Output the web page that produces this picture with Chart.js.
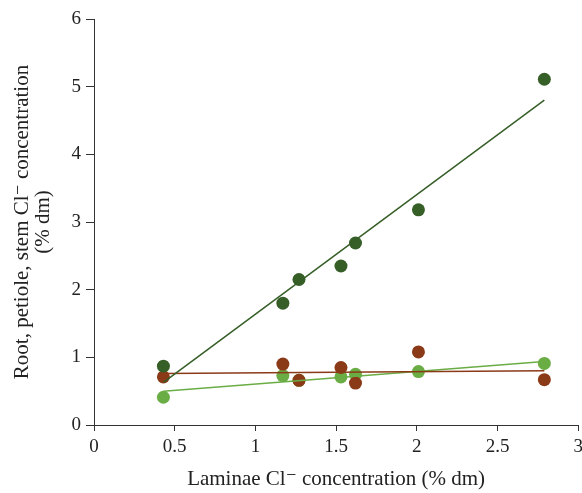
<!DOCTYPE html>
<html><head><meta charset="utf-8">
<script src="https://cdn.jsdelivr.net/npm/chart.js@4"></script>
<style>html,body{margin:0;padding:0;background:#fff;overflow:hidden}#wrap{width:582px;height:493px;position:relative;overflow:hidden}</style>
</head><body><div id="wrap"><canvas id="c" width="588" height="493"></canvas></div>
<script>
const laminae = [0.43, 1.17, 1.27, 1.53, 1.62, 2.01, 2.79];
const stem    = [0.87, 1.80, 2.15, 2.35, 2.69, 3.18, 5.11];
const root    = [0.71, 0.90, 0.66, 0.85, 0.62, 1.08, 0.67];
const petiole = [0.41, 0.73, 0.66, 0.71, 0.75, 0.79, 0.91];
const trendX       = [0.43, 2.79];
const stemTrend    = [0.63, 4.80];
const rootTrend    = [0.76, 0.80];
const petioleTrend = [0.50, 0.94];
const xTicks = [0, 0.5, 1, 1.5, 2, 2.5, 3];
const yTicks = [0, 1, 2, 3, 4, 5, 6];

const C_DARK = '#365e27', C_BROWN = '#8b3a17', C_LIGHT = '#6aad45';
const pts = (ys) => laminae.map((x, i) => ({x, y: ys[i]}));
const tr = (ys) => trendX.map((x, i) => ({x, y: ys[i]}));
const scatter = (label, ys, color) => ({type:'scatter', label, data: pts(ys), backgroundColor: color, borderColor: color, pointRadius: 6.5, pointHoverRadius: 6.5, borderWidth: 0});
const line = (label, ys, color) => ({type:'line', label, data: tr(ys), borderColor: color, borderWidth: 1.5, pointRadius: 0, fill: false, tension: 0});
const serif = "'Liberation Serif', 'DejaVu Serif', serif";

new Chart(document.getElementById('c'), {
  data: { datasets: [
    line('Stem trend', stemTrend, C_DARK),
    line('Root trend', rootTrend, C_BROWN),
    line('Petiole trend', petioleTrend, C_LIGHT),
    scatter('Stem', stem, C_DARK),
    scatter('Root', root, C_BROWN),
    scatter('Petiole', petiole, C_LIGHT)
  ]},
  options: {
    responsive: false, animation: false,
    layout: { padding: { top: 19, right: 0, bottom: 0, left: 0 } },
    plugins: { legend: { display: false }, tooltip: { enabled: false } },
    scales: {
      x: { type: 'linear', min: 0, max: 3,
        afterBuildTicks: (s) => { s.ticks = xTicks.map(v => ({value: v})); },
        afterFit: (s) => { s.height = 68; },
        grid: { display: true, drawOnChartArea: false, drawTicks: true, tickLength: 6, color: '#333' },
        border: { display: true, color: '#333', width: 1 },
        ticks: { color: '#222', font: { family: serif, size: 19 }, padding: 5, maxRotation: 0, callback: (v) => String(v) },
        title: { display: true, text: 'Laminae Cl⁻ concentration (% dm)', color: '#222', font: { family: serif, size: 21, lineHeight: 1.0 }, padding: { top: 0, bottom: 3 } }
      },
      y: { type: 'linear', min: 0, max: 6,
        afterBuildTicks: (s) => { s.ticks = yTicks.map(v => ({value: v})); },
        afterFit: (s) => { s.width = 94; },
        grid: { display: true, drawOnChartArea: false, drawTicks: true, tickLength: 8, color: '#333' },
        border: { display: true, color: '#333', width: 1 },
        ticks: { color: '#222', font: { family: serif, size: 19 }, padding: 5, callback: (v) => String(v) },
        title: { display: true, text: ['Root, petiole, stem Cl⁻ concentration', '(% dm)'], color: '#222', font: { family: serif, size: 21, lineHeight: 1.0 }, padding: { top: 12, bottom: 4 } }
      }
    }
  }
});
</script></body></html>
